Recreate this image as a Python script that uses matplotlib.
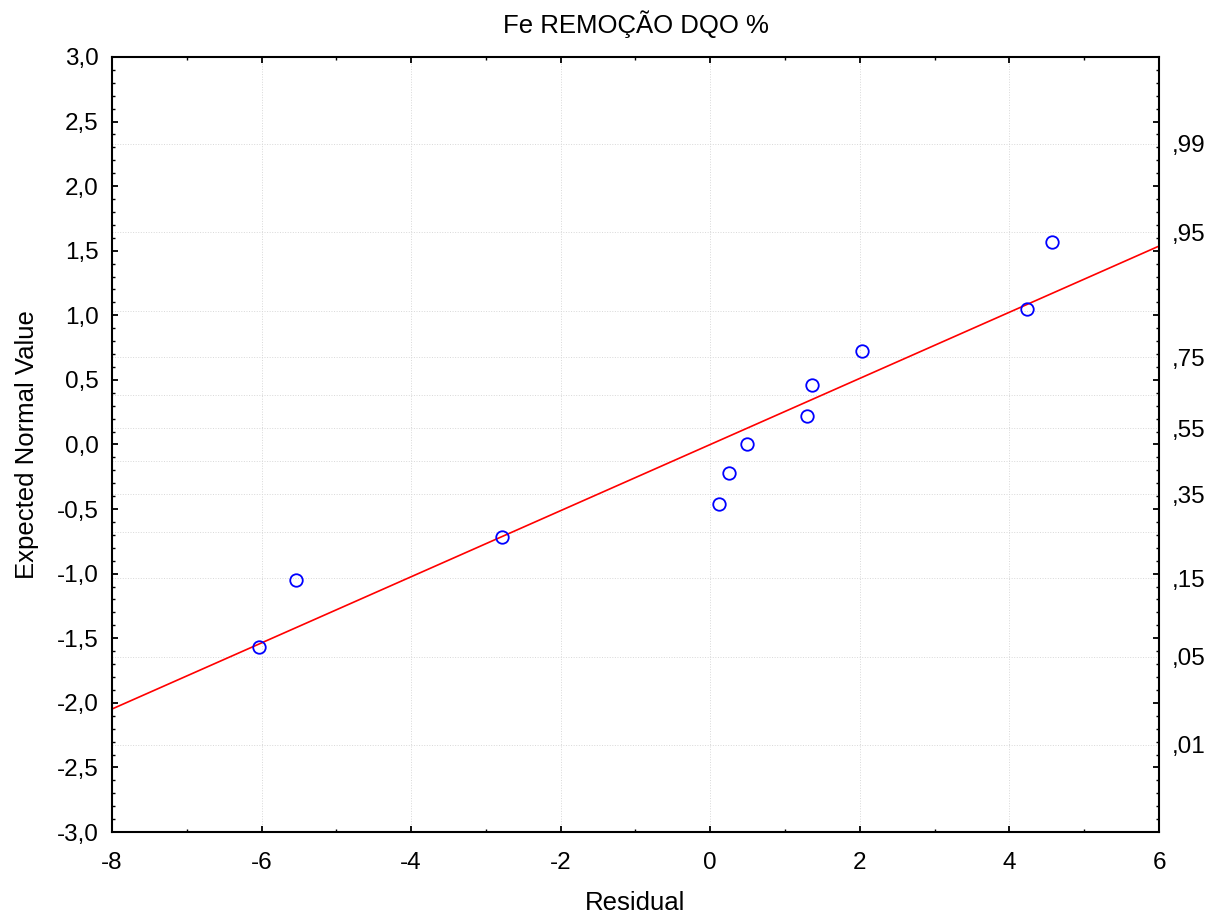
import numpy as np
import matplotlib
matplotlib.use("Agg")
import matplotlib.pyplot as plt
from matplotlib.ticker import MultipleLocator
from statistics import NormalDist

plt.rcParams['font.family'] = ['Liberation Sans', 'DejaVu Sans']
plt.rcParams['axes.unicode_minus'] = False

# residuals and expected normal values
residual = [-6.03, -5.54, -2.79, 0.12, 0.25, 0.49, 1.29, 1.36, 2.03, 4.23, 4.57]
expected = [-1.57, -1.05, -0.72, -0.46, -0.22, 0.0, 0.22, 0.46, 0.72, 1.05, 1.57]

# reference line
line_slope = 0.256
line_intercept = 0.0

x_ticks = [-8, -6, -4, -2, 0, 2, 4, 6]
y_ticks = [-3.0, -2.5, -2.0, -1.5, -1.0, -0.5, 0.0, 0.5, 1.0, 1.5, 2.0, 2.5, 3.0]
y_labels = ["-3,0", "-2,5", "-2,0", "-1,5", "-1,0", "-0,5", "0,0",
            "0,5", "1,0", "1,5", "2,0", "2,5", "3,0"]

# probability scale on the right
prob_labels = [0.01, 0.05, 0.15, 0.35, 0.55, 0.75, 0.95, 0.99]
prob_label_text = [",01", ",05", ",15", ",35", ",55", ",75", ",95", ",99"]
prob_grid = [0.01, 0.05, 0.15, 0.25, 0.35, 0.45, 0.55, 0.65, 0.75, 0.85, 0.95, 0.99]

nd = NormalDist()
tick_fs = 17.5
label_fs = 18.5

fig = plt.figure(figsize=(12.13, 9.16), dpi=100)
ax = fig.add_axes([0.0923, 0.0917, 0.8632, 0.8461])

# grid
for p in prob_grid:
    ax.axhline(nd.inv_cdf(p), color='#d8d8d8', lw=0.7, ls=':', zorder=0)
for xv in x_ticks[1:-1]:
    ax.axvline(xv, color='#d8d8d8', lw=0.7, ls=':', zorder=0)

xl = np.array([-8, 6])
ax.plot(xl, line_slope * xl + line_intercept, color='#ff0000', lw=1.2, zorder=2)
ax.plot(residual, expected, 'o', mfc='none', mec='#0000ff', mew=1.3, ms=9, zorder=3)

ax.set_xlim(-8, 6)
ax.set_ylim(-3, 3)
ax.set_xticks(x_ticks)
ax.set_xticklabels([str(v) for v in x_ticks])
ax.set_yticks(y_ticks)
ax.set_yticklabels(y_labels)
ax.xaxis.set_minor_locator(MultipleLocator(1))
ax.yaxis.set_minor_locator(MultipleLocator(0.1))

for s in ax.spines.values():
    s.set_linewidth(1.5)

ax2 = ax.twinx()
ax2.set_ylim(-3, 3)
ax2.set_yticks([nd.inv_cdf(p) for p in prob_labels])
ax2.set_yticklabels(prob_label_text)
ax2.tick_params(axis='y', length=0, pad=9, labelsize=tick_fs)
for s in ax2.spines.values():
    s.set_visible(False)

ax.tick_params(which='both', direction='in', top=True, right=True, labelsize=tick_fs)
ax.tick_params(axis='x', which='both', pad=14.5)
ax.tick_params(axis='y', which='both', pad=9.5)
ax.tick_params(which='major', length=4, width=1.3)
ax.tick_params(which='minor', length=2.5, width=1.0)

ax.set_xlabel("Residual", fontsize=label_fs, labelpad=12)
ax.set_ylabel("Expected Normal Value", fontsize=label_fs, labelpad=13)
ax.set_title("Fe REMOÇÃO DQO %", fontsize=label_fs, pad=17.5)

fig.savefig("out.png", dpi=100)
